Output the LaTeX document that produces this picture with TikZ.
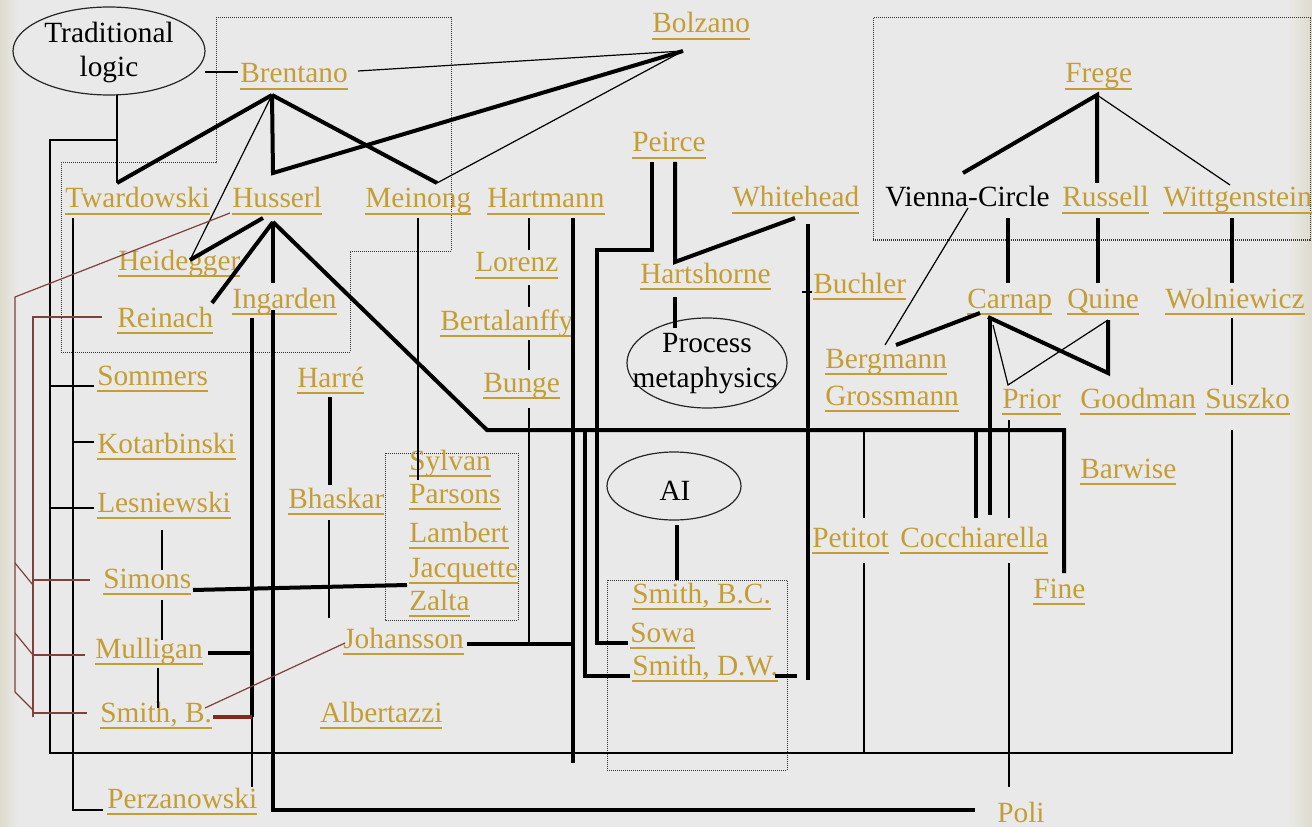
\documentclass[tikz,border=0pt]{standalone}
\usepackage{fontspec}
\setmainfont{Liberation Serif}
\usetikzlibrary{shapes.geometric}
\definecolor{gold}{RGB}{196,158,52}
\definecolor{bg}{RGB}{233,233,233}
\definecolor{beige}{RGB}{222,219,204}
\definecolor{brn}{RGB}{128,64,60}
\definecolor{brnk}{RGB}{130,40,30}
\newsavebox\lkbox
\newcommand\lk[1]{\sbox\lkbox{#1}\rlap{\rule[-5pt]{\wd\lkbox}{1.1pt}}\usebox\lkbox}
\begin{document}
\begin{tikzpicture}[x=0.75pt,y=-0.75pt,
  nm/.style={text=gold, inner sep=0pt, anchor=base west, font=\fontsize{22}{26}\selectfont},
  nmb/.style={text=black, inner sep=0pt, anchor=base west, font=\fontsize{22}{26}\selectfont},
  blk/.style={text=black, inner sep=0pt, anchor=base, font=\fontsize{22}{26}\selectfont},
  ell/.style={draw=black!85, line width=0.9pt, ellipse, inner sep=0pt},
  tn/.style={line width=0.9pt, black},
  tk/.style={line width=3pt, black},
  br/.style={line width=0.9pt, brn},
  brk/.style={line width=3pt, brnk},
  dbox/.style={draw=black!80, line width=0.75pt, dash pattern=on 0.75pt off 0.75pt}
]
% background
\fill[bg] (0,0) rectangle (1312,827);
\shade[left color=beige, right color=bg] (0,0) rectangle (18,827);
\shade[left color=bg, right color=beige] (1288,0) rectangle (1312,827);
\useasboundingbox (0,0) rectangle (1312,827);

% dotted groups
\draw[dbox] (216,18) -- (451,18) -- (451,251) -- (350,251) -- (350,352) -- (61,352) -- (61,163) -- (216,163) -- cycle;
\draw[dbox] (873,18) rectangle (1310,240);
\draw[dbox] (385,453) rectangle (518,620);
\draw[dbox] (607,580) rectangle (787,770);

% ellipses
\node[ell, minimum width=144pt, minimum height=66pt] (tl) at (109,51) {};
\node[blk] (tl1) at (109,43) {Traditional};
\node[blk] (tl2) at (109,77) {logic};
\node[ell, minimum width=120pt, minimum height=67.5pt] (pm) at (707,363) {};
\node[blk] (pm1) at (707,352) {Process};
\node[blk] (pm2) at (705,387) {metaphysics};
\node[ell, minimum width=100.5pt, minimum height=51pt] (ai) at (674,486) {};
\node[blk] (ai1) at (675,500) {AI};

% names
\node[nm] (brentano) at (240,83) {\lk{Brentano}};
\node[nm] (bolzano) at (652,33) {\lk{Bolzano}};
\node[nm] (twardowski) at (65,208) {\lk{Twardowski}};
\node[nm] (husserl) at (232,208) {\lk{Husserl}};
\node[nm] (meinong) at (365,208) {\lk{Meinong}};
\node[nm] (hartmann) at (487,208) {\lk{Hartmann}};
\node[nm] (peirce) at (632,152) {\lk{Peirce}};
\node[nm] (whitehead) at (732,207) {\lk{Whitehead}};
\node[nm] (frege) at (1065,83) {\lk{Frege}};
\node[nmb] (vienna) at (885,207) {Vienna-Circle};
\node[nm] (russell) at (1062,207) {\lk{Russell}};
\node[nm] (wittgenstein) at (1163,207) {\lk{Wittgenstein}};
\node[nm] (heidegger) at (118,270) {\lk{Heidegger}};
\node[nm] (reinach) at (117,327) {\lk{Reinach}};
\node[nm] (ingarden) at (232,308) {\lk{Ingarden}};
\node[nm] (lorenz) at (475,272) {\lk{Lorenz}};
\node[nm] (hartshorne) at (640,283) {\lk{Hartshorne}};
\node[nm] (buchler) at (813,293) {\lk{Buchler}};
\node[nm] (bertalanffy) at (440,330) {\lk{Bertalanffy}};
\node[nm] (carnap) at (967,308) {\lk{Carnap}};
\node[nm] (quine) at (1067,308) {\lk{Quine}};
\node[nm] (wolniewicz) at (1165,308) {\lk{Wolniewicz}};
\node[nm] (bergmann) at (825,368) {\lk{Bergmann}};
\node[nm] (grossmann) at (825,405) {\lk{Grossmann}};
\node[nm] (sommers) at (97,385) {\lk{Sommers}};
\node[nm] (harre) at (297,387) {\lk{Harré}};
\node[nm] (bunge) at (483,392) {\lk{Bunge}};
\node[nm] (prior) at (1002,408) {\lk{Prior}};
\node[nm] (goodman) at (1080,408) {\lk{Goodman}};
\node[nm] (suszko) at (1205,408) {\lk{Suszko}};
\node[nm] (kotarbinski) at (97,453) {\lk{Kotarbinski}};
\node[nm] (sylvan) at (409,470) {\lk{Sylvan}};
\node[nm] (parsons) at (409,503) {\lk{Parsons}};
\node[nm] (lambert) at (409,542) {\lk{Lambert}};
\node[nm] (jacquette) at (409,577) {\lk{Jacquette}};
\node[nm] (zalta) at (409,610) {\lk{Zalta}};
\node[nm] (bhaskar) at (288,508) {\lk{Bhaskar}};
\node[nm] (lesniewski) at (97,512) {\lk{Lesniewski}};
\node[nm] (barwise) at (1080,478) {\lk{Barwise}};
\node[nm] (petitot) at (812,547) {\lk{Petitot}};
\node[nm] (cocchiarella) at (900,547) {\lk{Cocchiarella}};
\node[nm] (simons) at (103,588) {\lk{Simons}};
\node[nm] (fine) at (1033,598) {\lk{Fine}};
\node[nm] (smithbc) at (632,603) {\lk{Smith, B.C.}};
\node[nm] (sowa) at (630,642) {\lk{Sowa}};
\node[nm] (smithdw) at (632,675) {\lk{Smith, D.W.}};
\node[nm] (mulligan) at (95,658) {\lk{Mulligan}};
\node[nm] (johansson) at (343,648) {\lk{Johansson}};
\node[nm] (smithb) at (100,722) {\lk{Smith, B.}};
\node[nm] (albertazzi) at (320,722) {\lk{Albertazzi}};
\node[nm] (perzanowski) at (107,808) {\lk{Perzanowski}};
\node[nm] (poli) at (997,822) {\lk{Poli}};

% connection points
\coordinate (tl-e) at (205,72);
\coordinate (tl-s) at (117,95);
\coordinate (bre-w) at (238,72);
\coordinate (bre-e) at (358,71);
\coordinate (bre-s) at (272,95);
\coordinate (bol-s) at (683,51);
\coordinate (twa-n) at (117,183);
\coordinate (twa-s) at (73,218);
\coordinate (hus-n) at (273,173);
\coordinate (hus-s) at (273,222);
\coordinate (hus-sw) at (263,218);
\coordinate (hus-w) at (230,213);
\coordinate (mei-n) at (437,183);
\coordinate (mei-s) at (418,218);
\coordinate (hei-n) at (190,260);
\coordinate (rei-n) at (212,303);
\coordinate (rei-w) at (102,317);
\coordinate (ing-n) at (273,283);
\coordinate (ing-s1) at (252,318);
\coordinate (ing-s2) at (273,310);
\coordinate (har-s1) at (529,218);
\coordinate (har-s2) at (573,218);
\coordinate (lor-n) at (529,250);
\coordinate (lor-s) at (529,285);
\coordinate (ber-n) at (529,307);
\coordinate (ber-s) at (529,340);
\coordinate (bun-n) at (529,370);
\coordinate (bun-s) at (529,408);
\coordinate (joh-j) at (529,644);
\coordinate (joh-e) at (467,644);
\coordinate (joh-w) at (345,643);
\coordinate (joh-nw) at (329,618);
\coordinate (som-w) at (94,386);
\coordinate (les-w) at (94,508);
\coordinate (kot-w) at (94,442);
\coordinate (per-w) at (103,810);
\coordinate (per-n) at (252,787);
\coordinate (sus-s) at (1232,430);
\coordinate (sus-n) at (1232,385);
\coordinate (syl-n) at (418,480);
\coordinate (les-s) at (162,530);
\coordinate (sim-n) at (162,570);
\coordinate (sim-s) at (162,600);
\coordinate (sim-e) at (193,590);
\coordinate (sim-w) at (90,580);
\coordinate (mul-n) at (162,640);
\coordinate (mul-s) at (158,668);
\coordinate (mul-e) at (208,653);
\coordinate (mul-w) at (85,655);
\coordinate (smb-n) at (158,708);
\coordinate (smb-w) at (87,713);
\coordinate (smb-e) at (205,708);
\coordinate (smb-e2) at (213,717);
\coordinate (jac-w) at (407,585);
\coordinate (harre-s) at (330,397);
\coordinate (bha-n) at (330,485);
\coordinate (bha-s) at (329,520);
\coordinate (buc-w) at (812,292);
\coordinate (pet-n) at (864,518);
\coordinate (pet-s) at (864,563);
\coordinate (pri-n) at (1008,385);
\coordinate (pri-s) at (1009,420);
\coordinate (coc-n1) at (976,518);
\coordinate (coc-n2) at (990,515);
\coordinate (coc-n3) at (1009,518);
\coordinate (coc-s) at (1009,563);
\coordinate (pol-n) at (1009,787);
\coordinate (pol-w) at (975,810);
\coordinate (fin-n) at (1064,573);
\coordinate (fre-s) at (1097,95);
\coordinate (vie-n) at (963,173);
\coordinate (vie-s) at (968,208);
\coordinate (vie-s2) at (1008,218);
\coordinate (rus-n) at (1097,183);
\coordinate (rus-s) at (1098,218);
\coordinate (wit-n) at (1230,185);
\coordinate (wit-s) at (1232,218);
\coordinate (car-n) at (1008,283);
\coordinate (car-sw) at (980,313);
\coordinate (car-s) at (988,317);
\coordinate (car-s2) at (990,317);
\coordinate (car-se) at (993,325);
\coordinate (qui-n) at (1098,283);
\coordinate (qui-s) at (1108,320);
\coordinate (goo-n) at (1108,373);
\coordinate (wol-n) at (1232,283);
\coordinate (wol-s) at (1232,318);
\coordinate (berg-n) at (885,345);
\coordinate (berg-ne) at (896,345);
\coordinate (pei-s1) at (652,162);
\coordinate (pei-s2) at (675,162);
\coordinate (hsh-n) at (675,262);
\coordinate (hsh-s) at (675,297);
\coordinate (pm-n) at (675,328);
\coordinate (whi-s) at (795,218);
\coordinate (whi-s2) at (808,224);
\coordinate (sow-w) at (628,643);
\coordinate (sdw-w) at (630,676);
\coordinate (sdw-e) at (775,676);
\coordinate (ai-s) at (677,525);
\coordinate (sbc-n) at (677,580);

% thin black connectors
\draw[tn] (tl-e) -- (bre-w);
\draw[tn] (tl-s) -- (twa-n);
\draw[tn] (117,140) -- (50,140) -- (50,753) -- (1232,753) -- (sus-s);
\draw[tn] (50,386) -- (som-w);
\draw[tn] (50,508) -- (les-w);
\draw[tn] (twa-s) -- (73,810) -- (per-w);
\draw[tn] (73,442) -- (kot-w);
\draw[tn] (bol-s) -- (bre-e);
\draw[tn] (bol-s) -- (mei-n);
\draw[tn] (bre-s) -- (hei-n);
\draw[tn] (mei-s) -- (syl-n);
\draw[tn] (har-s1) -- (lor-n);
\draw[tn] (lor-s) -- (ber-n);
\draw[tn] (ber-s) -- (bun-n);
\draw[tn] (bun-s) -- (joh-j);
\draw[tn] (les-s) -- (sim-n);
\draw[tn] (sim-s) -- (mul-n);
\draw[tn] (mul-s) -- (smb-n);
\draw[tn] (bha-s) -- (joh-nw);
\draw[tn] (252,717) -- (per-n);
\draw[tn] (802,292) -- (buc-w);
\draw[tn] (864,430) -- (pet-n);
\draw[tn] (pet-s) -- (864,753);
\draw[tn] (pri-s) -- (coc-n3);
\draw[tn] (coc-s) -- (pol-n);
\draw[tn] (fre-s) -- (wit-n);
\draw[tn] (vie-s) -- (berg-n);
\draw[tn] (car-se) -- (pri-n) -- (qui-s);
\draw[tn] (wol-s) -- (sus-n);

% thick black connectors
\draw[tk] (bre-s) -- (twa-n);
\draw[tk] (bre-s) -- (hus-n) -- (bol-s);
\draw[tk] (bre-s) -- (mei-n);
\draw[tk] (hus-sw) -- (hei-n);
\draw[tk] (hus-s) -- (rei-n);
\draw[tk] (hus-s) -- (ing-n);
\draw[tk] (hus-s) -- (487,430) -- (1064,430) -- (fin-n);
\draw[tk] (585,430) -- (585,676) -- (sdw-w);
\draw[tk] (976,430) -- (coc-n1);
\draw[tk] (ing-s2) -- (273,810) -- (pol-w);
\draw[tk] (ing-s1) -- (252,717);
\draw[tk] (mul-e) -- (252,653);
\draw[tk] (sim-e) -- (jac-w);
\draw[tk] (harre-s) -- (bha-n);
\draw[tk] (har-s2) -- (573,763);
\draw[tk] (joh-e) -- (573,644);
\draw[tk] (pei-s1) -- (652,250) -- (597,250) -- (597,643) -- (sow-w);
\draw[tk] (pei-s2) -- (hsh-n) -- (whi-s);
\draw[tk] (hsh-s) -- (pm-n);
\draw[tk] (whi-s2) -- (808,680);
\draw[tk] (sdw-e) -- (797,676);
\draw[tk] (ai-s) -- (sbc-n);
\draw[tk] (vie-n) -- (fre-s) -- (rus-n);
\draw[tk] (vie-s2) -- (car-n);
\draw[tk] (rus-s) -- (qui-n);
\draw[tk] (wit-s) -- (wol-n);
\draw[tk] (car-sw) -- (berg-ne);
\draw[tk] (car-s) -- (goo-n) -- (qui-s);
\draw[tk] (car-s2) -- (coc-n2);

% brown connectors
\draw[br] (hus-w) -- (15,297) -- (15,692) -- (33,710);
\draw[br] (15,563) -- (33,585);
\draw[br] (15,633) -- (33,655);
\draw[br] (rei-w) -- (33,317) -- (33,717);
\draw[br] (33,580) -- (sim-w);
\draw[br] (33,655) -- (mul-w);
\draw[br] (33,713) -- (smb-w);
\draw[br] (smb-e) -- (joh-w);
\draw[brk] (smb-e2) -- (252,717);
\end{tikzpicture}
\end{document}
